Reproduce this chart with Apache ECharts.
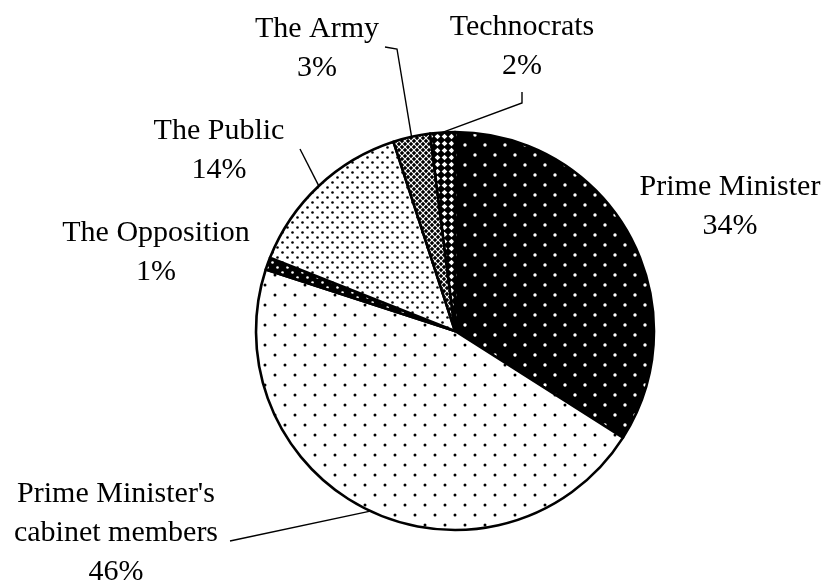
<!DOCTYPE html>
<html>
<head>
<meta charset="utf-8">
<script src="https://cdn.jsdelivr.net/npm/echarts@6/dist/echarts.min.js"></script>
<style>
  html, body { margin: 0; padding: 0; background: #fff; }
  #chart { width: 836px; height: 588px; }
</style>
</head>
<body>
<div id="chart"></div>
<script>
// Who holds influence: shares in percent, clockwise from 12 o'clock
const categories = ['Prime Minister', "Prime Minister's cabinet members", 'The Opposition', 'The Public', 'The Army', 'Technocrats'];
const shares = [34, 46, 1, 14, 3, 2];
// Label text as it is broken over lines
const labelNames = ['Prime Minister', "Prime Minister's\ncabinet members", 'The Opposition', 'The Public', 'The Army', 'Technocrats'];

// Label placement (centre of each text block) and leader-line bends
const labelAnchors = [[730, 207], [116, 533], [156, 253], [219, 151], [317, 49], [522, 47]];
const leaderBends = [null, [[230, 541]], null, [[300, 149]], [[397, 49], [385, 47]], [[522, 103], [522, 92]]];

// Fill patterns drawn into small canvas tiles
function tile(size, bg) {
  const c = document.createElement('canvas');
  c.width = c.height = size;
  const g = c.getContext('2d');
  g.fillStyle = bg;
  g.fillRect(0, 0, size, size);
  return [c, g];
}
function dots(size, bg, fg, r) {
  const [c, g] = tile(size, bg);
  g.fillStyle = fg;
  [[size / 4, size / 4], [3 * size / 4, 3 * size / 4]].forEach(([x, y]) => {
    g.beginPath(); g.arc(x, y, r, 0, Math.PI * 2); g.fill();
  });
  return c;
}
function lattice(size, lw) {
  const [c, g] = tile(size, '#000');
  g.strokeStyle = '#fff';
  g.lineWidth = lw;
  g.beginPath();
  g.moveTo(0, 0); g.lineTo(size, size);
  g.moveTo(size, 0); g.lineTo(0, size);
  g.stroke();
  return c;
}
function diamonds(size, h) {
  const [c, g] = tile(size, '#000');
  const m = size / 2;
  g.fillStyle = '#fff';
  g.beginPath();
  g.moveTo(m, m - h); g.lineTo(m + h, m); g.lineTo(m, m + h); g.lineTo(m - h, m);
  g.closePath(); g.fill();
  return c;
}
const patterns = [
  dots(20, '#000', '#fff', 1.7),
  dots(20, '#fff', '#000', 1.5),
  dots(10, '#000', '#fff', 1.3),
  dots(10, '#fff', '#000', 1.3),
  lattice(6, 1.1),
  diamonds(7, 2.8)
];

const chart = echarts.init(document.getElementById('chart'), null, { renderer: 'canvas' });
chart.setOption({
  animation: false,
  backgroundColor: '#fff',
  series: [{
    type: 'pie',
    center: [455, 331],
    radius: 199,
    startAngle: 90,
    clockwise: true,
    avoidLabelOverlap: false,
    data: categories.map((name, i) => ({
      name: name,
      value: shares[i],
      itemStyle: { color: { image: patterns[i], repeat: 'repeat' } },
      labelLine: { show: leaderBends[i] !== null }
    })),
    itemStyle: { borderColor: '#000', borderWidth: 2.6 },
    label: {
      show: true,
      position: 'outside',
      formatter: p => labelNames[p.dataIndex] + '\n' + p.value + '%',
      fontFamily: '"Liberation Serif", "Times New Roman", serif',
      fontSize: 30,
      lineHeight: 39,
      color: '#000',
      align: 'center'
    },
    labelLine: { show: true, length: 10, length2: 10, smooth: false, lineStyle: { color: '#000', width: 1.4 } },
    labelLayout: function (p) {
      const a = labelAnchors[p.dataIndex];
      const out = { x: a[0], y: a[1], align: 'center', verticalAlign: 'middle' };
      const bend = leaderBends[p.dataIndex];
      if (bend && p.labelLinePoints) {
        out.labelLinePoints = [p.labelLinePoints[0]].concat(bend);
      }
      return out;
    },
    emphasis: { disabled: true }
  }]
});
</script>
</body>
</html>
